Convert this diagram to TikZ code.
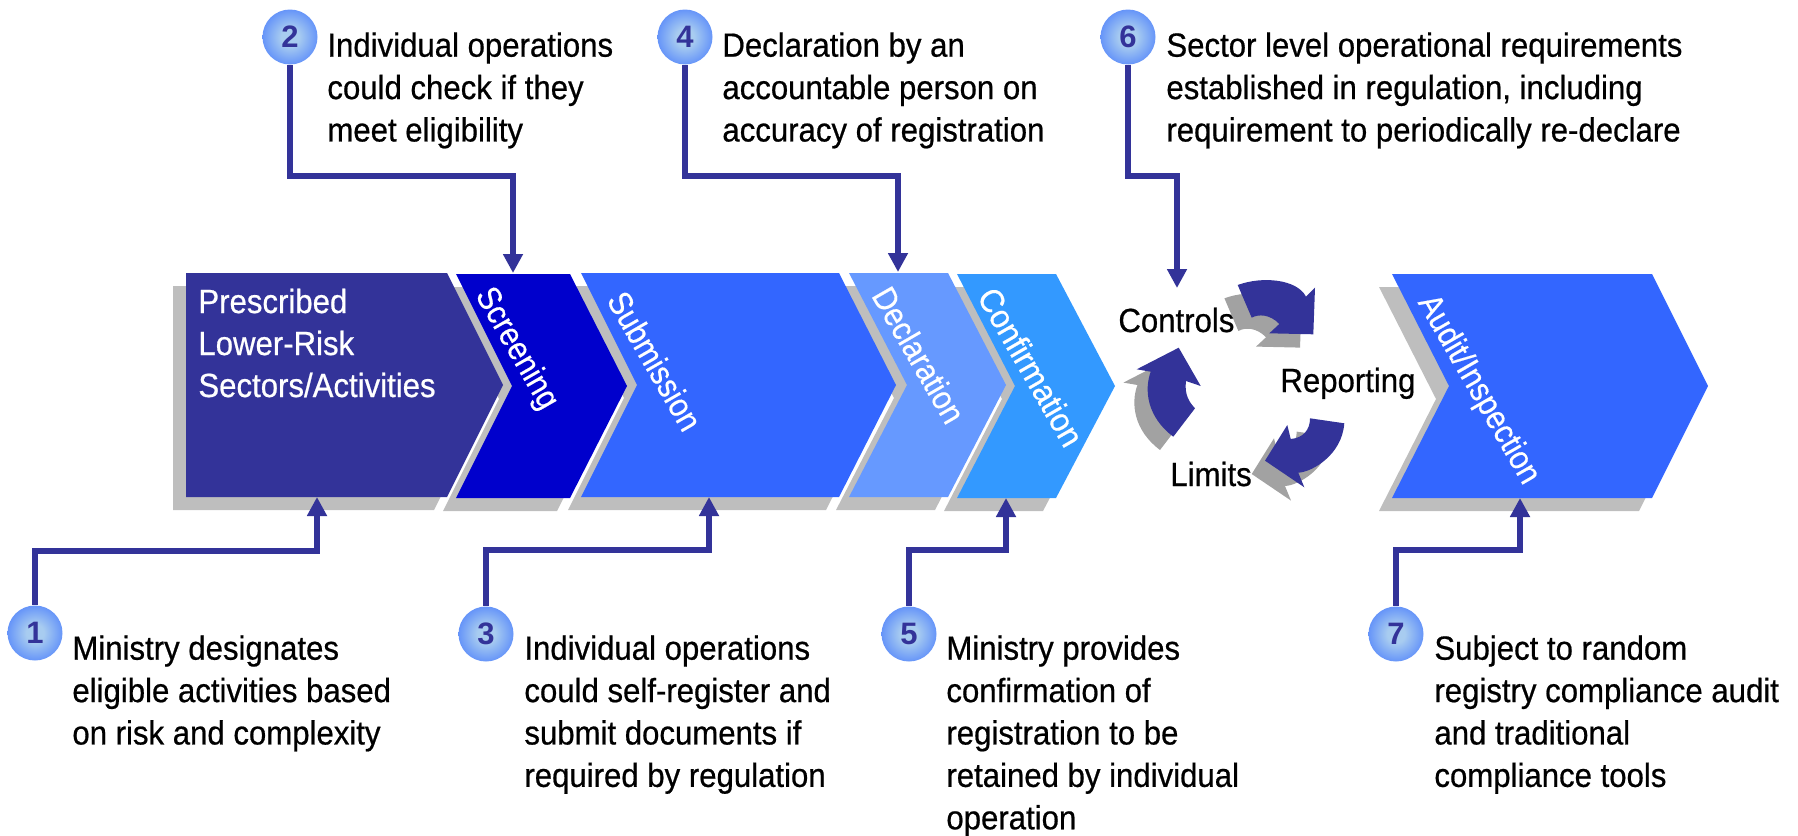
\documentclass[tikz,border=0pt]{standalone}
\usepackage{fontspec}
\setmainfont{Liberation Sans}[FakeStretch=0.93,FakeBold=0.6]
\newfontfamily\numfont{Liberation Sans}[FakeStretch=1.0]
\newfontfamily\rotfont{Liberation Sans}[FakeStretch=0.89,FakeBold=0.4]
\usetikzlibrary{arrows.meta}
\definecolor{navy}{HTML}{333399}
\definecolor{dblue}{HTML}{0000CC}
\definecolor{mblue}{HTML}{3366FF}
\definecolor{lblue}{HTML}{6699FF}
\definecolor{sblue}{HTML}{3399FF}
\definecolor{shad}{HTML}{BEBEBE}
\definecolor{gshad}{HTML}{A2A2A2}
\definecolor{balllight}{HTML}{A8CCF0}
\definecolor{ballmid}{HTML}{6A98F8}
\pgfdeclareradialshading{ballshade}{\pgfpoint{0bp}{0bp}}{color(0bp)=(balllight); color(8bp)=(balllight); color(24bp)=(ballmid); color(40bp)=(mblue); color(50bp)=(mblue)}
\newcommand{\chev}[7]{%
\fill[#1] (#2,#6) -- (#4,#6) -- (#5,{(#6+#7)/2}) -- (#4,#7) -- (#2,#7) -- (#3,{(#6+#7)/2}) -- cycle;}
\newcommand{\chevs}[7]{%
\fill[#1,shift={(-13,13)}] (#2,#6) -- (#4,#6) -- (#5,{(#6+#7)/2}) -- (#4,#7) -- (#2,#7) -- (#3,{(#6+#7)/2}) -- cycle;}
\newcommand{\arrA}{(1237.7,285) .. controls (1262,276) and (1297,279) .. (1306,296.7) -- (1315,287.7) -- (1313.3,334.3) -- (1269.3,333.3) -- (1279.3,324) .. controls (1270,314) and (1258,314) .. (1251.7,317.7) -- cycle}
\newcommand{\arrB}{(1310,418.3) -- (1344.3,423.3) .. controls (1342,455) and (1312,472) .. (1298.3,472.7) -- (1304.3,487.3) -- (1265,460.7) -- (1287.3,425) -- (1290.7,439) .. controls (1303,438) and (1310,430) .. (1310,418.3) -- cycle}
\newcommand{\arrC}{(1173.3,436.7) .. controls (1147,417) and (1144,390) .. (1150.7,371.7) -- (1136.7,369.3) -- (1178.7,347.7) -- (1200.7,386) -- (1186,381) .. controls (1184,395) and (1190,403) .. (1195,408.3) -- cycle}
\tikzset{
  conn/.style={draw=navy,line width=3.25pt,-{Triangle[length=9.5pt,width=9.5pt]}},
  ball/.style={circle,minimum size=27.5pt,inner sep=0pt,shading=ballshade,text=navy,font=\numfont\fontsize{15.5pt}{16pt}\selectfont\bfseries},
  note/.style={anchor=north west,inner sep=0pt,align=left,text=black,font=\fontsize{16.75pt}{21.2pt}\selectfont},
  hd/.style={anchor=base west,inner sep=0pt,text=black,font=\fontsize{16.75pt}{21pt}\selectfont},
  wlab/.style={anchor=base west,inner sep=0pt,text=white,font=\fontsize{16.75pt}{21pt}\selectfont},
  rlab/.style={inner sep=0pt,text=white,rotate=-60,font=\rotfont\fontsize{16.75pt}{21pt}\selectfont},
}
\begin{document}
\begin{tikzpicture}[x=0.5pt,y=-0.5pt]
\useasboundingbox (0,0) rectangle (1798,835);
% shadows
\chevs{shad}{186}{186}{447}{503}{273}{497}
\chevs{shad}{456}{512}{570}{627}{274}{498}
\chevs{shad}{581}{637}{839}{896}{273}{497}
\chevs{shad}{849}{907}{948}{1006}{273}{497}
\chevs{shad}{957}{1015}{1056}{1115}{274}{498}
\chevs{shad}{1392}{1449}{1652}{1708}{274}{498}
% chevrons
\chev{navy}{186}{186}{447}{503}{273}{497}
\chev{dblue}{456}{512}{570}{627}{274}{498}
\chev{mblue}{581}{637}{839}{896}{273}{497}
\chev{lblue}{849}{907}{948}{1006}{273}{497}
\chev{sblue}{957}{1015}{1056}{1115}{274}{498}
\chev{mblue}{1392}{1449}{1652}{1708}{274}{498}
% cycle arrows
\begin{scope}[shift={(-13.3,13.3)}]
\fill[gshad] \arrA;
\fill[gshad] \arrB;
\fill[gshad] \arrC;
\end{scope}
\fill[navy] \arrA;
\fill[navy] \arrB;
\fill[navy] \arrC;
% chevron labels
\node[wlab] (lp1) at (198,313) {Prescribed};
\node[wlab] (lp2) at (198,355) {Lower-Risk};
\node[wlab] (lp3) at (198,397) {Sectors/Activities};
\node[rlab] (scr) at (516,349) {Screening};
\node[rlab] (sub) at (655,361) {Submission};
\node[rlab] (dec) at (919,355) {Declaration};
\node[rlab,font=\fontsize{16.75pt}{21pt}\selectfont] (con) at (1031,367) {Confirmation};
\node[rlab] (aud) at (1478,390) {Audit/Inspection};
\node[hd] (ctl) at (1118,332) {Controls};
\node[hd] (rep) at (1280,392) {Reporting};
\node[hd] (lim) at (1170,486) {Limits};
% balls
\node[ball] (c1) at (35,633) {1};
\node[ball] (c2) at (290,37) {2};
\node[ball] (c3) at (486,634) {3};
\node[ball] (c4) at (685,37) {4};
\node[ball] (c5) at (909,634) {5};
\node[ball] (c6) at (1128,37) {6};
\node[ball] (c7) at (1396,634) {7};
% connector ends
\coordinate (t1) at (317,497); \coordinate (j1) at (317,551);
\coordinate (t2) at (513,273); \coordinate (j2) at (513,176);
\coordinate (t3) at (709,497); \coordinate (j3) at (709,550);
\coordinate (t4) at (898,272); \coordinate (j4) at (898,176);
\coordinate (t5) at (1006,498); \coordinate (j5) at (1006,550);
\coordinate (t6) at (1177,288); \coordinate (j6) at (1177,176);
\coordinate (t7) at (1520,498); \coordinate (j7) at (1520,550);
\draw[conn] (c1.north) |- (j1) -- (t1);
\draw[conn] (c2.south) |- (j2) -- (t2);
\draw[conn] (c3.north) |- (j3) -- (t3);
\draw[conn] (c4.south) |- (j4) -- (t4);
\draw[conn] (c5.north) |- (j5) -- (t5);
\draw[conn] (c6.south) |- (j6) -- (t6);
\draw[conn] (c7.north) |- (j7) -- (t7);
% notes
\node[note] (n1) at (72,635) {Ministry designates\\eligible activities based\\on risk and complexity};
\node[note] (n2) at (327,32) {Individual operations\\could check if they\\meet eligibility};
\node[note] (n3) at (524,635) {Individual operations\\could self-register and\\submit documents if\\required by regulation};
\node[note] (n4) at (722,32) {Declaration by an\\accountable person on\\accuracy of registration};
\node[note] (n5) at (946,635) {Ministry provides\\confirmation of\\registration to be\\retained by individual\\operation};
\node[note] (n6) at (1166,32) {Sector level operational requirements\\established in regulation, including\\requirement to periodically re-declare};
\node[note] (n7) at (1434,635) {Subject to random\\registry compliance audit\\and traditional\\compliance tools};
\end{tikzpicture}
\end{document}
